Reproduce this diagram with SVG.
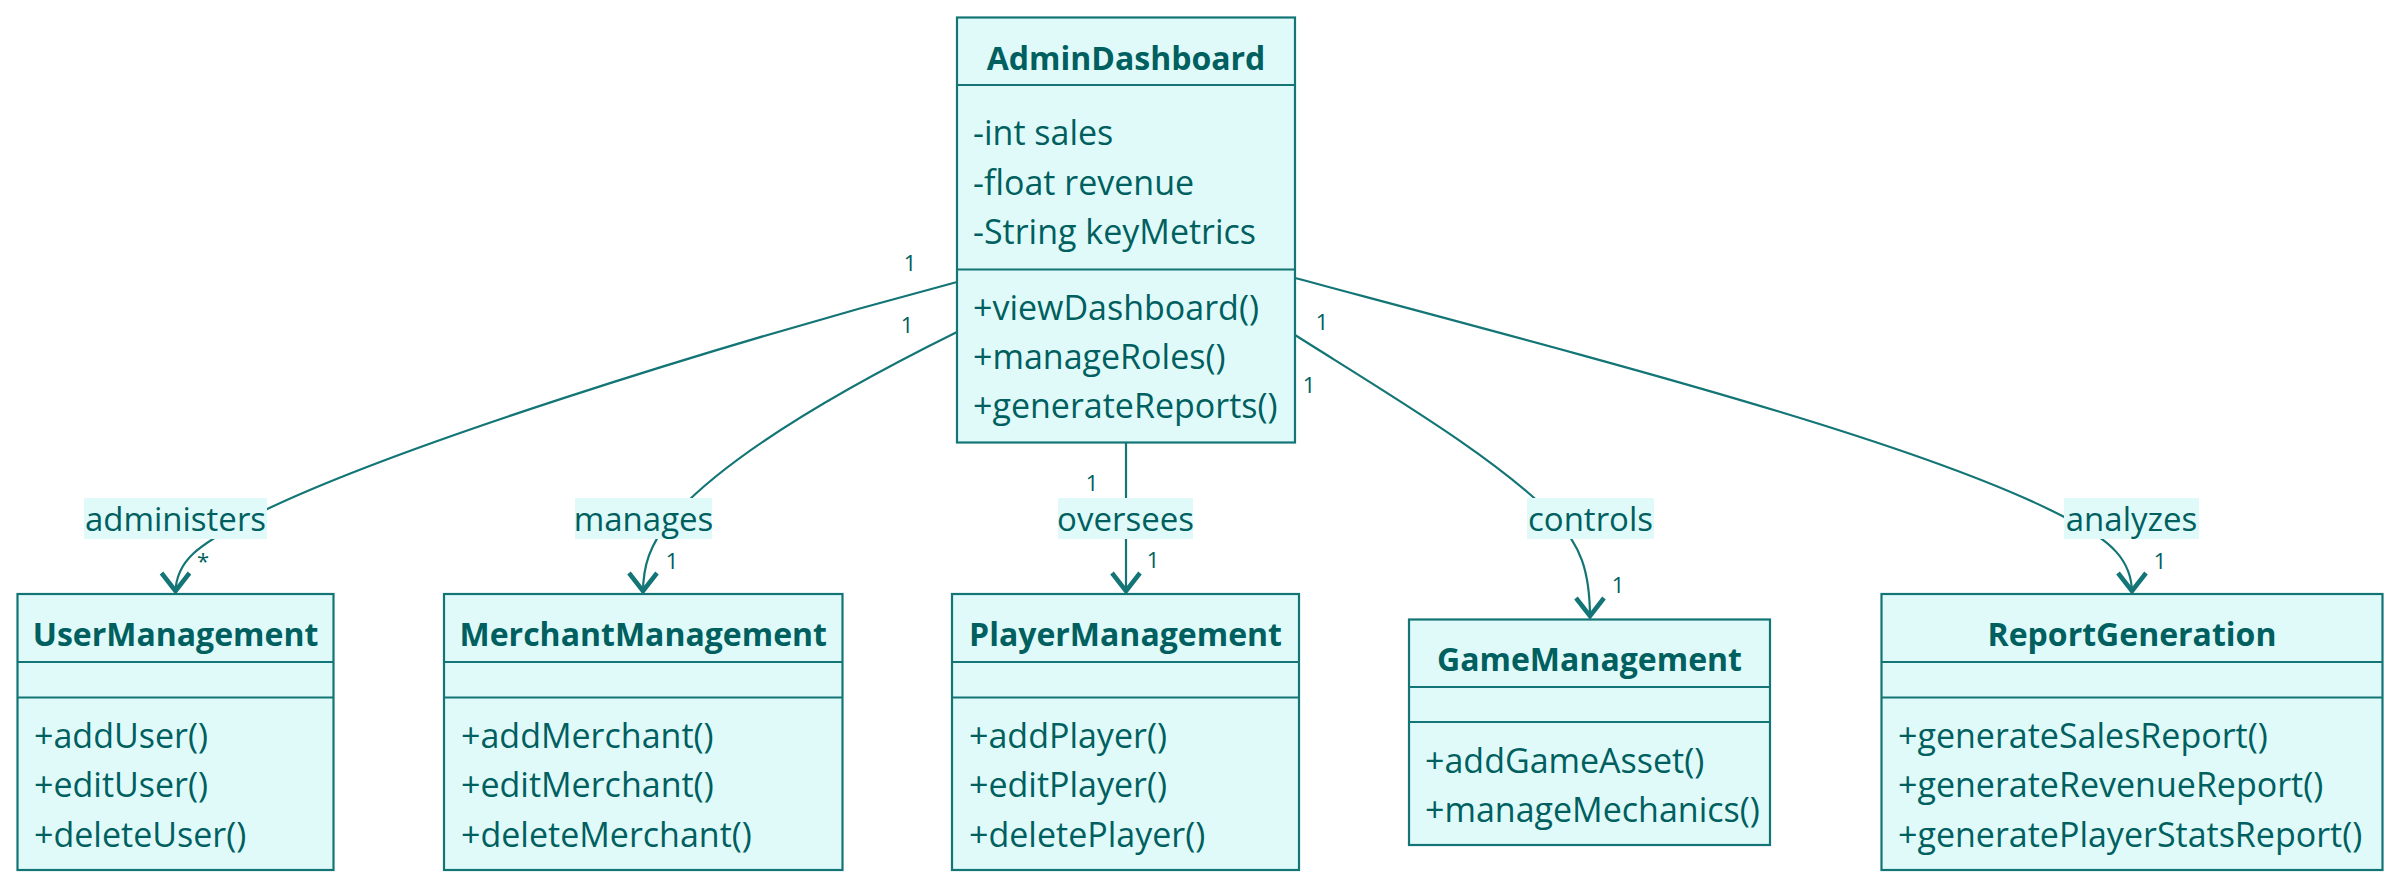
<svg xmlns="http://www.w3.org/2000/svg" width="2400" height="888" viewBox="0 0 2400 888">
<style>
.box{fill:#e0fafa;stroke:#137575;stroke-width:2.2}
.div{stroke:#137575;stroke-width:2.2}
.title{font-family:"Open Sans","Noto Sans",sans-serif;font-size:32px;font-weight:bold;fill:#005f5f;text-anchor:middle}
.mem{font-family:"Open Sans","Noto Sans",sans-serif;font-size:34px;fill:#005f5f}
.edge{fill:none;stroke:#137575;stroke-width:2.2}
.lblbg{fill:#e0fafa}
.lbl{font-family:"Open Sans","Noto Sans",sans-serif;font-size:33px;fill:#005f5f;text-anchor:middle}
.mult{font-family:"Open Sans","Noto Sans",sans-serif;font-size:22px;fill:#005f5f;text-anchor:middle}
</style>
<defs>
<marker id="arrow" markerUnits="userSpaceOnUse" markerWidth="34" markerHeight="34" viewBox="0 0 34 34" refX="23" refY="17" orient="auto">
<path d="M3,3 L21,17 L3,31" fill="none" stroke="#137575" stroke-width="4.5"/>
</marker>
</defs>
<rect width="2400" height="888" fill="#ffffff"/>

<g id="connectors">
<path class="edge" d="M957,282 C720,345 380,450 245,520 C200,545 175.5,560 175.5,593" marker-end="url(#arrow)"/>
<path class="edge" d="M957,332 C870,375 730,450 670,520 C650,545 643,565 643,593" marker-end="url(#arrow)"/>
<path class="edge" d="M1126,443 L1126,593" marker-end="url(#arrow)"/>
<path class="edge" d="M1295,335 C1390,395 1500,460 1555,518 C1580,545 1590,570 1590,618" marker-end="url(#arrow)"/>
<path class="edge" d="M1295,278 C1620,365 1930,445 2070,520 C2110,540 2132,560 2132,593" marker-end="url(#arrow)"/>

<rect class="lblbg" x="84" y="498" width="183" height="41"/>
<text class="lbl" x="175.5" y="531">administers</text>
<rect class="lblbg" x="575" y="498" width="137" height="41"/>
<text class="lbl" x="643.5" y="531">manages</text>
<rect class="lblbg" x="1058" y="498" width="135" height="41"/>
<text class="lbl" x="1125.5" y="531">oversees</text>
<rect class="lblbg" x="1527" y="498" width="127" height="41"/>
<text class="lbl" x="1590.5" y="531">controls</text>
<rect class="lblbg" x="2064" y="498" width="135" height="41"/>
<text class="lbl" x="2131.5" y="531">analyzes</text>

<text class="mult" x="910" y="271">1</text>
<text class="mult" x="907" y="333">1</text>
<text class="mult" x="1092" y="491">1</text>
<text class="mult" x="1322" y="330">1</text>
<text class="mult" x="1309" y="393">1</text>
<text class="mult" x="203" y="569">*</text>
<text class="mult" x="672" y="569">1</text>
<text class="mult" x="1153" y="568">1</text>
<text class="mult" x="1618" y="593">1</text>
<text class="mult" x="2160" y="569">1</text>
</g>

<g id="AdminDashboard">
<rect class="box" x="957" y="17.5" width="338" height="425"/>
<line class="div" x1="957" y1="85" x2="1295" y2="85"/>
<line class="div" x1="957" y1="269.5" x2="1295" y2="269.5"/>
<text class="title" x="1126" y="70">AdminDashboard</text>
<text class="mem" x="973" y="145">-int sales</text>
<text class="mem" x="973" y="194.5">-float revenue</text>
<text class="mem" x="973" y="244">-String keyMetrics</text>
<text class="mem" x="973" y="320">+viewDashboard()</text>
<text class="mem" x="973" y="369">+manageRoles()</text>
<text class="mem" x="973" y="418">+generateReports()</text>
</g>

<g id="UserManagement">
<rect class="box" x="17.5" y="594" width="316" height="276"/>
<line class="div" x1="17.5" y1="662" x2="333.5" y2="662"/>
<line class="div" x1="17.5" y1="697.5" x2="333.5" y2="697.5"/>
<text class="title" x="175.5" y="646">UserManagement</text>
<text class="mem" x="34" y="747.5">+addUser()</text>
<text class="mem" x="34" y="797">+editUser()</text>
<text class="mem" x="34" y="846.5">+deleteUser()</text>
</g>

<g id="MerchantManagement">
<rect class="box" x="444" y="594" width="398.5" height="276"/>
<line class="div" x1="444" y1="662" x2="842.5" y2="662"/>
<line class="div" x1="444" y1="697.5" x2="842.5" y2="697.5"/>
<text class="title" x="643.25" y="646">MerchantManagement</text>
<text class="mem" x="461" y="747.5">+addMerchant()</text>
<text class="mem" x="461" y="797">+editMerchant()</text>
<text class="mem" x="461" y="846.5">+deleteMerchant()</text>
</g>

<g id="PlayerManagement">
<rect class="box" x="952" y="594" width="347" height="276"/>
<line class="div" x1="952" y1="662" x2="1299" y2="662"/>
<line class="div" x1="952" y1="697.5" x2="1299" y2="697.5"/>
<text class="title" x="1125.5" y="646">PlayerManagement</text>
<text class="mem" x="969" y="747.5">+addPlayer()</text>
<text class="mem" x="969" y="797">+editPlayer()</text>
<text class="mem" x="969" y="846.5">+deletePlayer()</text>
</g>

<g id="GameManagement">
<rect class="box" x="1409" y="619.5" width="361" height="225.5"/>
<line class="div" x1="1409" y1="687" x2="1770" y2="687"/>
<line class="div" x1="1409" y1="722" x2="1770" y2="722"/>
<text class="title" x="1589.5" y="671">GameManagement</text>
<text class="mem" x="1425" y="773">+addGameAsset()</text>
<text class="mem" x="1425" y="822">+manageMechanics()</text>
</g>

<g id="ReportGeneration">
<rect class="box" x="1881.5" y="594" width="501" height="276"/>
<line class="div" x1="1881.5" y1="662" x2="2382.5" y2="662"/>
<line class="div" x1="1881.5" y1="697.5" x2="2382.5" y2="697.5"/>
<text class="title" x="2132" y="646">ReportGeneration</text>
<text class="mem" x="1898" y="747.5">+generateSalesReport()</text>
<text class="mem" x="1898" y="797">+generateRevenueReport()</text>
<text class="mem" x="1898" y="846.5">+generatePlayerStatsReport()</text>
</g>
</svg>
